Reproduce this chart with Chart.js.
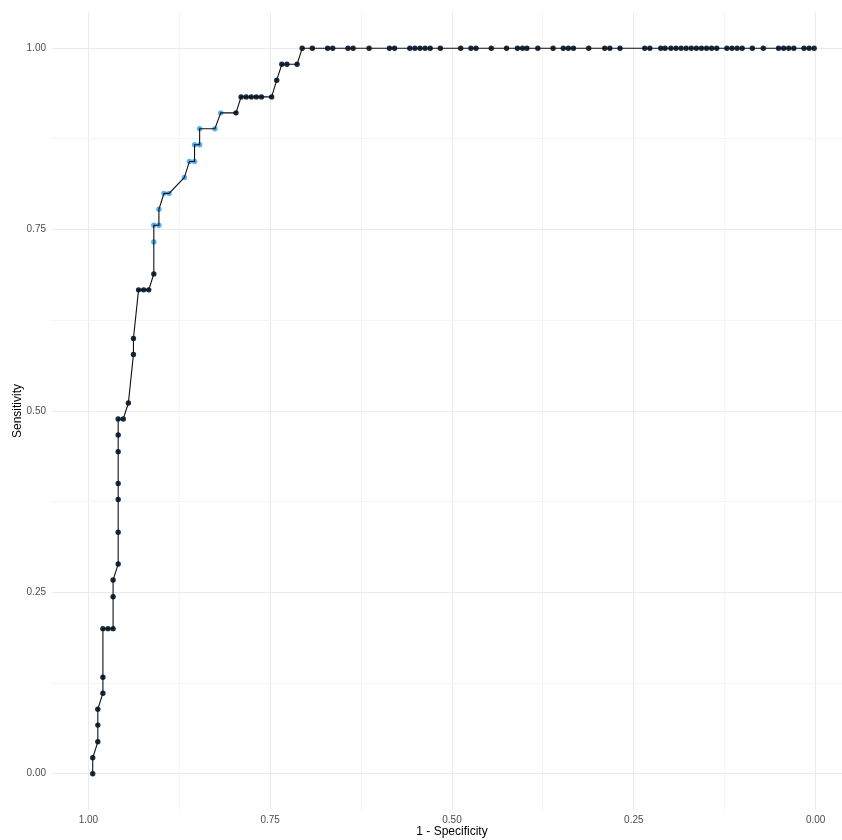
<!DOCTYPE html>
<html>
<head>
<meta charset="utf-8">
<title>ROC curve</title>
<script src="https://cdn.jsdelivr.net/npm/chart.js@4.4.1/dist/chart.umd.min.js"></script>
<style>
  html, body { margin: 0; padding: 0; overflow: hidden; background: #fff; }
  #wrap { position: relative; width: 852px; height: 840px; }
</style>
</head>
<body>
<div id="wrap"><canvas id="roc"></canvas></div>
<script>
// ROC curve points (x = specificity, reversed axis)
const specificity = [
  0.994, 0.994, 0.987, 0.987, 0.987, 0.980, 0.980, 0.980, 0.973, 0.966,
  0.966, 0.966, 0.959, 0.959, 0.959, 0.959, 0.959, 0.959, 0.959, 0.952,
  0.945, 0.938, 0.938, 0.931, 0.924, 0.917, 0.910, 0.910, 0.910, 0.903,
  0.903, 0.896, 0.889, 0.868, 0.861, 0.854, 0.854, 0.847, 0.847, 0.826,
  0.818, 0.797, 0.790, 0.783, 0.776, 0.769, 0.762, 0.748, 0.741, 0.734,
  0.727, 0.713,
  0.706, 0.692, 0.671, 0.664, 0.643, 0.636, 0.614, 0.586, 0.579, 0.558,
  0.551, 0.544, 0.537, 0.530, 0.516, 0.488, 0.474, 0.467, 0.446, 0.425,
  0.410, 0.403, 0.397, 0.382, 0.361, 0.347, 0.340, 0.333, 0.312, 0.290,
  0.283, 0.269, 0.235, 0.228, 0.213, 0.207, 0.199, 0.192, 0.185, 0.178,
  0.171, 0.164, 0.157, 0.150, 0.143, 0.136, 0.122, 0.115, 0.108, 0.101,
  0.087, 0.072, 0.051, 0.044, 0.037, 0.030, 0.016, 0.009, 0.002
];
const sensitivity = [
  0.000, 0.022, 0.044, 0.067, 0.089, 0.111, 0.133, 0.200, 0.200, 0.200,
  0.244, 0.267, 0.289, 0.333, 0.378, 0.400, 0.444, 0.467, 0.489, 0.489,
  0.511, 0.578, 0.600, 0.667, 0.667, 0.667, 0.689, 0.733, 0.756, 0.756,
  0.778, 0.800, 0.800, 0.822, 0.844, 0.844, 0.867, 0.867, 0.889, 0.889,
  0.911, 0.911, 0.933, 0.933, 0.933, 0.933, 0.933, 0.933, 0.956, 0.978,
  0.978, 0.978,
  1, 1, 1, 1, 1, 1, 1, 1, 1, 1,
  1, 1, 1, 1, 1, 1, 1, 1, 1, 1,
  1, 1, 1, 1, 1, 1, 1, 1, 1, 1,
  1, 1, 1, 1, 1, 1, 1, 1, 1, 1,
  1, 1, 1, 1, 1, 1, 1, 1, 1, 1,
  1, 1, 1, 1, 1, 1, 1, 1, 1
];
// points drawn light blue (index range, inclusive)
const highlighted = [27, 40];

const gridValues = [0, 0.125, 0.25, 0.375, 0.5, 0.625, 0.75, 0.875, 1];

const DARK = "#132B43";
const LIGHT = "#56B1F7";
const FONT = "'Liberation Sans', Arial, sans-serif";

const points = specificity.map((s, i) => ({ x: s, y: sensitivity[i] }));

function isMajor(v) {
  return Math.abs(v * 4 - Math.round(v * 4)) < 1e-9;
}

function axis(extra) {
  return Object.assign({
    type: "linear",
    min: -0.05,
    max: 1.05,
    afterBuildTicks: s => { s.ticks = gridValues.map(v => ({ value: v })); },
    border: { display: false },
    grid: {
      drawTicks: false,
      lineWidth: 1,
      color: c => (c.tick && isMajor(c.tick.value)) ? "#ebebeb" : "#f5f5f5",
    },
  }, extra);
}

new Chart(document.getElementById("roc"), {
  type: "scatter",
  data: {
    datasets: [
      {
        label: "curve",
        data: points,
        showLine: true,
        borderColor: "#111111",
        borderWidth: 1.1,
        pointRadius: 0,
        order: 1,
      },
      {
        label: "points",
        data: points,
        showLine: false,
        pointRadius: 2.7,
        pointBorderWidth: 0,
        pointBackgroundColor: c =>
          (c.dataIndex >= highlighted[0] && c.dataIndex <= highlighted[1]) ? LIGHT : DARK,
        order: 2,
      },
    ],
  },
  options: {
    responsive: true,
    maintainAspectRatio: false,
    animation: false,
    events: [],
    layout: { autoPadding: false, padding: { top: 10, left: 0, right: 0, bottom: 0 } },
    plugins: { legend: { display: false }, tooltip: { enabled: false } },
    scales: {
      x: axis({
        reverse: true,
        afterFit: s => { s.height = 30; },
        ticks: {
          autoSkip: false, maxRotation: 0, padding: 4,
          color: "#4d4d4d", font: { family: FONT, size: 10 },
          callback: v => isMajor(v) ? v.toFixed(2) : "",
        },
        title: {
          display: true, text: "1 - Specificity", color: "#000",
          font: { family: FONT, size: 12 }, padding: { top: 0, bottom: 1 },
        },
      }),
      y: axis({
        afterFit: s => { s.width = 52; },
        ticks: {
          autoSkip: false, padding: 6,
          color: "#4d4d4d", font: { family: FONT, size: 10 },
          callback: v => isMajor(v) ? v.toFixed(2) : "",
        },
        title: {
          display: true, text: "Sensitivity", color: "#000",
          font: { family: FONT, size: 12 }, padding: { top: 10, bottom: 0 },
        },
      }),
    },
  },
});
</script>
</body>
</html>
